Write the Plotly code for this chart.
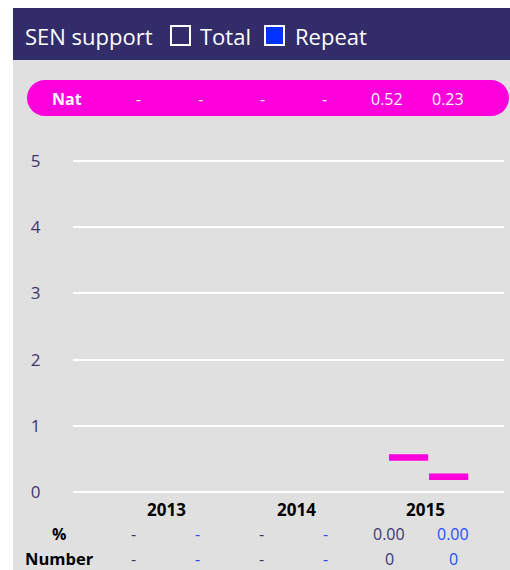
import plotly.graph_objects as go

# ---- data ----
years = ["2013", "2014", "2015"]
nat_total = [None, None, 0.52]
nat_repeat = [None, None, 0.23]
pct_total = [None, None, 0.00]
pct_repeat = [None, None, 0.00]
num_total = [None, None, 0]
num_repeat = [None, None, 0]
y_ticks = [0, 1, 2, 3, 4, 5]

# ---- style ----
W, H = 510, 570
FONT = "Open Sans"
HEADER = "#332C6B"
PANEL = "#E0E0E0"
MAGENTA = "#FF00DC"
TOTAL_C = "#3C3670"
REPEAT_C = "#1F4FFF"
REPEAT_FILL = "#0033FF"


def px(x):
    return x / W


def py(y):
    return 1 - y / H


def fmt(v, nd):
    return "-" if v is None else f"{v:.{nd}f}"


# plot area in pixels; one y unit = UNIT px, y=0 sits at Y0 px
PL, PR = 73, 504
PT, PB = 150, 500
UNIT = 66.2
Y0 = 492
x_range = [-0.718, 2.602]
y_range = [-(PB - Y0) / UNIT, (Y0 - PT) / UNIT]

fig = go.Figure()

# Total / Repeat bars (values of the % row)
fig.add_trace(go.Bar(
    x=[i - 0.15 for i in range(len(years))], y=pct_total, width=0.3,
    marker=dict(color=HEADER, line=dict(color="white", width=0)),
    showlegend=False, hoverinfo="skip"))
fig.add_trace(go.Bar(
    x=[i + 0.15 for i in range(len(years))], y=pct_repeat, width=0.3,
    marker=dict(color=REPEAT_FILL, line=dict(color="white", width=0)),
    showlegend=False, hoverinfo="skip"))

# national reference marks
nat_x, nat_y = [], []
for i, (t, r) in enumerate(zip(nat_total, nat_repeat)):
    if t is not None:
        nat_x.append(i - 0.133)
        nat_y.append(t)
    if r is not None:
        nat_x.append(i + 0.176)
        nat_y.append(r)
fig.add_trace(go.Scatter(
    x=nat_x, y=nat_y, mode="markers", cliponaxis=False,
    marker=dict(symbol="line-ew", size=28, color=MAGENTA,
                line=dict(color=MAGENTA, width=6.5)),
    showlegend=False, hoverinfo="skip"))

shapes = []
# header band and grey panel
shapes.append(dict(type="rect", xref="paper", yref="paper", layer="below",
                   x0=px(13), x1=px(W), y0=py(60), y1=py(8),
                   fillcolor=HEADER, line=dict(width=0)))
shapes.append(dict(type="rect", xref="paper", yref="paper", layer="below",
                   x0=px(13), x1=px(W), y0=py(H), y1=py(60),
                   fillcolor=PANEL, line=dict(width=0)))
# legend swatches
shapes.append(dict(type="rect", xref="paper", yref="paper",
                   x0=px(171), x1=px(190), y0=py(45), y1=py(26),
                   fillcolor=HEADER, line=dict(color="white", width=2)))
shapes.append(dict(type="rect", xref="paper", yref="paper",
                   x0=px(265), x1=px(284), y0=py(45), y1=py(26),
                   fillcolor=REPEAT_FILL, line=dict(color="white", width=2)))


# rounded pill for the national row
def pill(x0, x1, y0, y1, r):
    k = 0.5523 * r
    pts = [
        f"M {px(x0 + r)},{py(y0)}",
        f"L {px(x1 - r)},{py(y0)}",
        f"C {px(x1 - r + k)},{py(y0)} {px(x1)},{py(y0 + r - k)} {px(x1)},{py(y0 + r)}",
        f"C {px(x1)},{py(y1 - r + k)} {px(x1 - r + k)},{py(y1)} {px(x1 - r)},{py(y1)}",
        f"L {px(x0 + r)},{py(y1)}",
        f"C {px(x0 + r - k)},{py(y1)} {px(x0)},{py(y1 - r + k)} {px(x0)},{py(y1 - r)}",
        f"C {px(x0)},{py(y0 + r - k)} {px(x0 + r - k)},{py(y0)} {px(x0 + r)},{py(y0)}",
        "Z",
    ]
    return " ".join(pts)


shapes.append(dict(type="path", xref="paper", yref="paper", layer="below",
                   path=pill(27, 509, 80, 116, 18),
                   fillcolor=MAGENTA, line=dict(width=0)))

ann = []
# header title and legend labels
ann.append(dict(text="SEN support", x=px(24), y=py(36), xanchor="left", yanchor="middle",
                font=dict(family=FONT, size=22, color="white")))
ann.append(dict(text="Total", x=px(199), y=py(36), xanchor="left", yanchor="middle",
                font=dict(family=FONT, size=22, color="white")))
ann.append(dict(text="Repeat", x=px(294), y=py(36), xanchor="left", yanchor="middle",
                font=dict(family=FONT, size=22, color="white")))

# national row text
ann.append(dict(text="<b>Nat</b>", x=px(67), y=py(99), xanchor="center", yanchor="middle",
                font=dict(family=FONT, size=16, color="white")))
nat_cols = [138, 200, 262, 324, 387, 448]
nat_vals = []
for t, r in zip(nat_total, nat_repeat):
    nat_vals += [fmt(t, 2), fmt(r, 2)]
for cx, s in zip(nat_cols, nat_vals):
    ann.append(dict(text=s, x=px(cx), y=py(99), xanchor="center", yanchor="middle",
                    font=dict(family=FONT, size=16, color="white")))

# year labels under each group
for i, yr in enumerate(years):
    ann.append(dict(text=f"<b>{yr}</b>", x=i, xref="x", y=py(509), yref="paper",
                    xanchor="center", yanchor="middle",
                    font=dict(family=FONT, size=17, color="black")))

# table rows below the axis
ROW_PCT, ROW_NUM = 534, 558.5
ann.append(dict(text="<b>%</b>", x=px(59), y=py(ROW_PCT), xanchor="center", yanchor="middle",
                font=dict(family=FONT, size=16, color="black")))
ann.append(dict(text="<b>Number</b>", x=px(59), y=py(ROW_NUM), xanchor="center", yanchor="middle",
                font=dict(family=FONT, size=16.5, color="black")))
tab_cols = [133, 197, 261, 325, 389, 453]
for i in range(len(years)):
    for row_y, tv, rv, nd in [(ROW_PCT, pct_total[i], pct_repeat[i], 2),
                              (ROW_NUM, num_total[i], num_repeat[i], 0)]:
        ann.append(dict(text=fmt(tv, nd), x=px(tab_cols[2 * i]), y=py(row_y),
                        xanchor="center", yanchor="middle",
                        font=dict(family=FONT, size=16, color=TOTAL_C)))
        ann.append(dict(text=fmt(rv, nd), x=px(tab_cols[2 * i + 1]), y=py(row_y),
                        xanchor="center", yanchor="middle",
                        font=dict(family=FONT, size=16, color=REPEAT_C)))

for a in ann:
    a.setdefault("xref", "paper")
    a.setdefault("yref", "paper")
    a["showarrow"] = False
    a["borderpad"] = 0

fig.update_layout(
    width=W, height=H,
    margin=dict(l=0, r=0, t=0, b=0, pad=0),
    paper_bgcolor="white",
    plot_bgcolor="rgba(0,0,0,0)",
    barmode="overlay",
    shapes=shapes,
    annotations=ann,
    xaxis=dict(domain=[px(PL), px(PR)], range=x_range, automargin=False,
               showticklabels=False, showgrid=False, zeroline=False, showline=False),
    yaxis=dict(domain=[py(PB), py(PT)], range=y_range, automargin=False,
               tickvals=y_ticks,
               tickfont=dict(family=FONT, size=17, color=TOTAL_C),
               showgrid=True, gridcolor="white", gridwidth=2,
               zeroline=False, showline=False,
               ticks="outside", ticklen=28, tickcolor="rgba(0,0,0,0)"),
)

fig.write_html("out.html")
